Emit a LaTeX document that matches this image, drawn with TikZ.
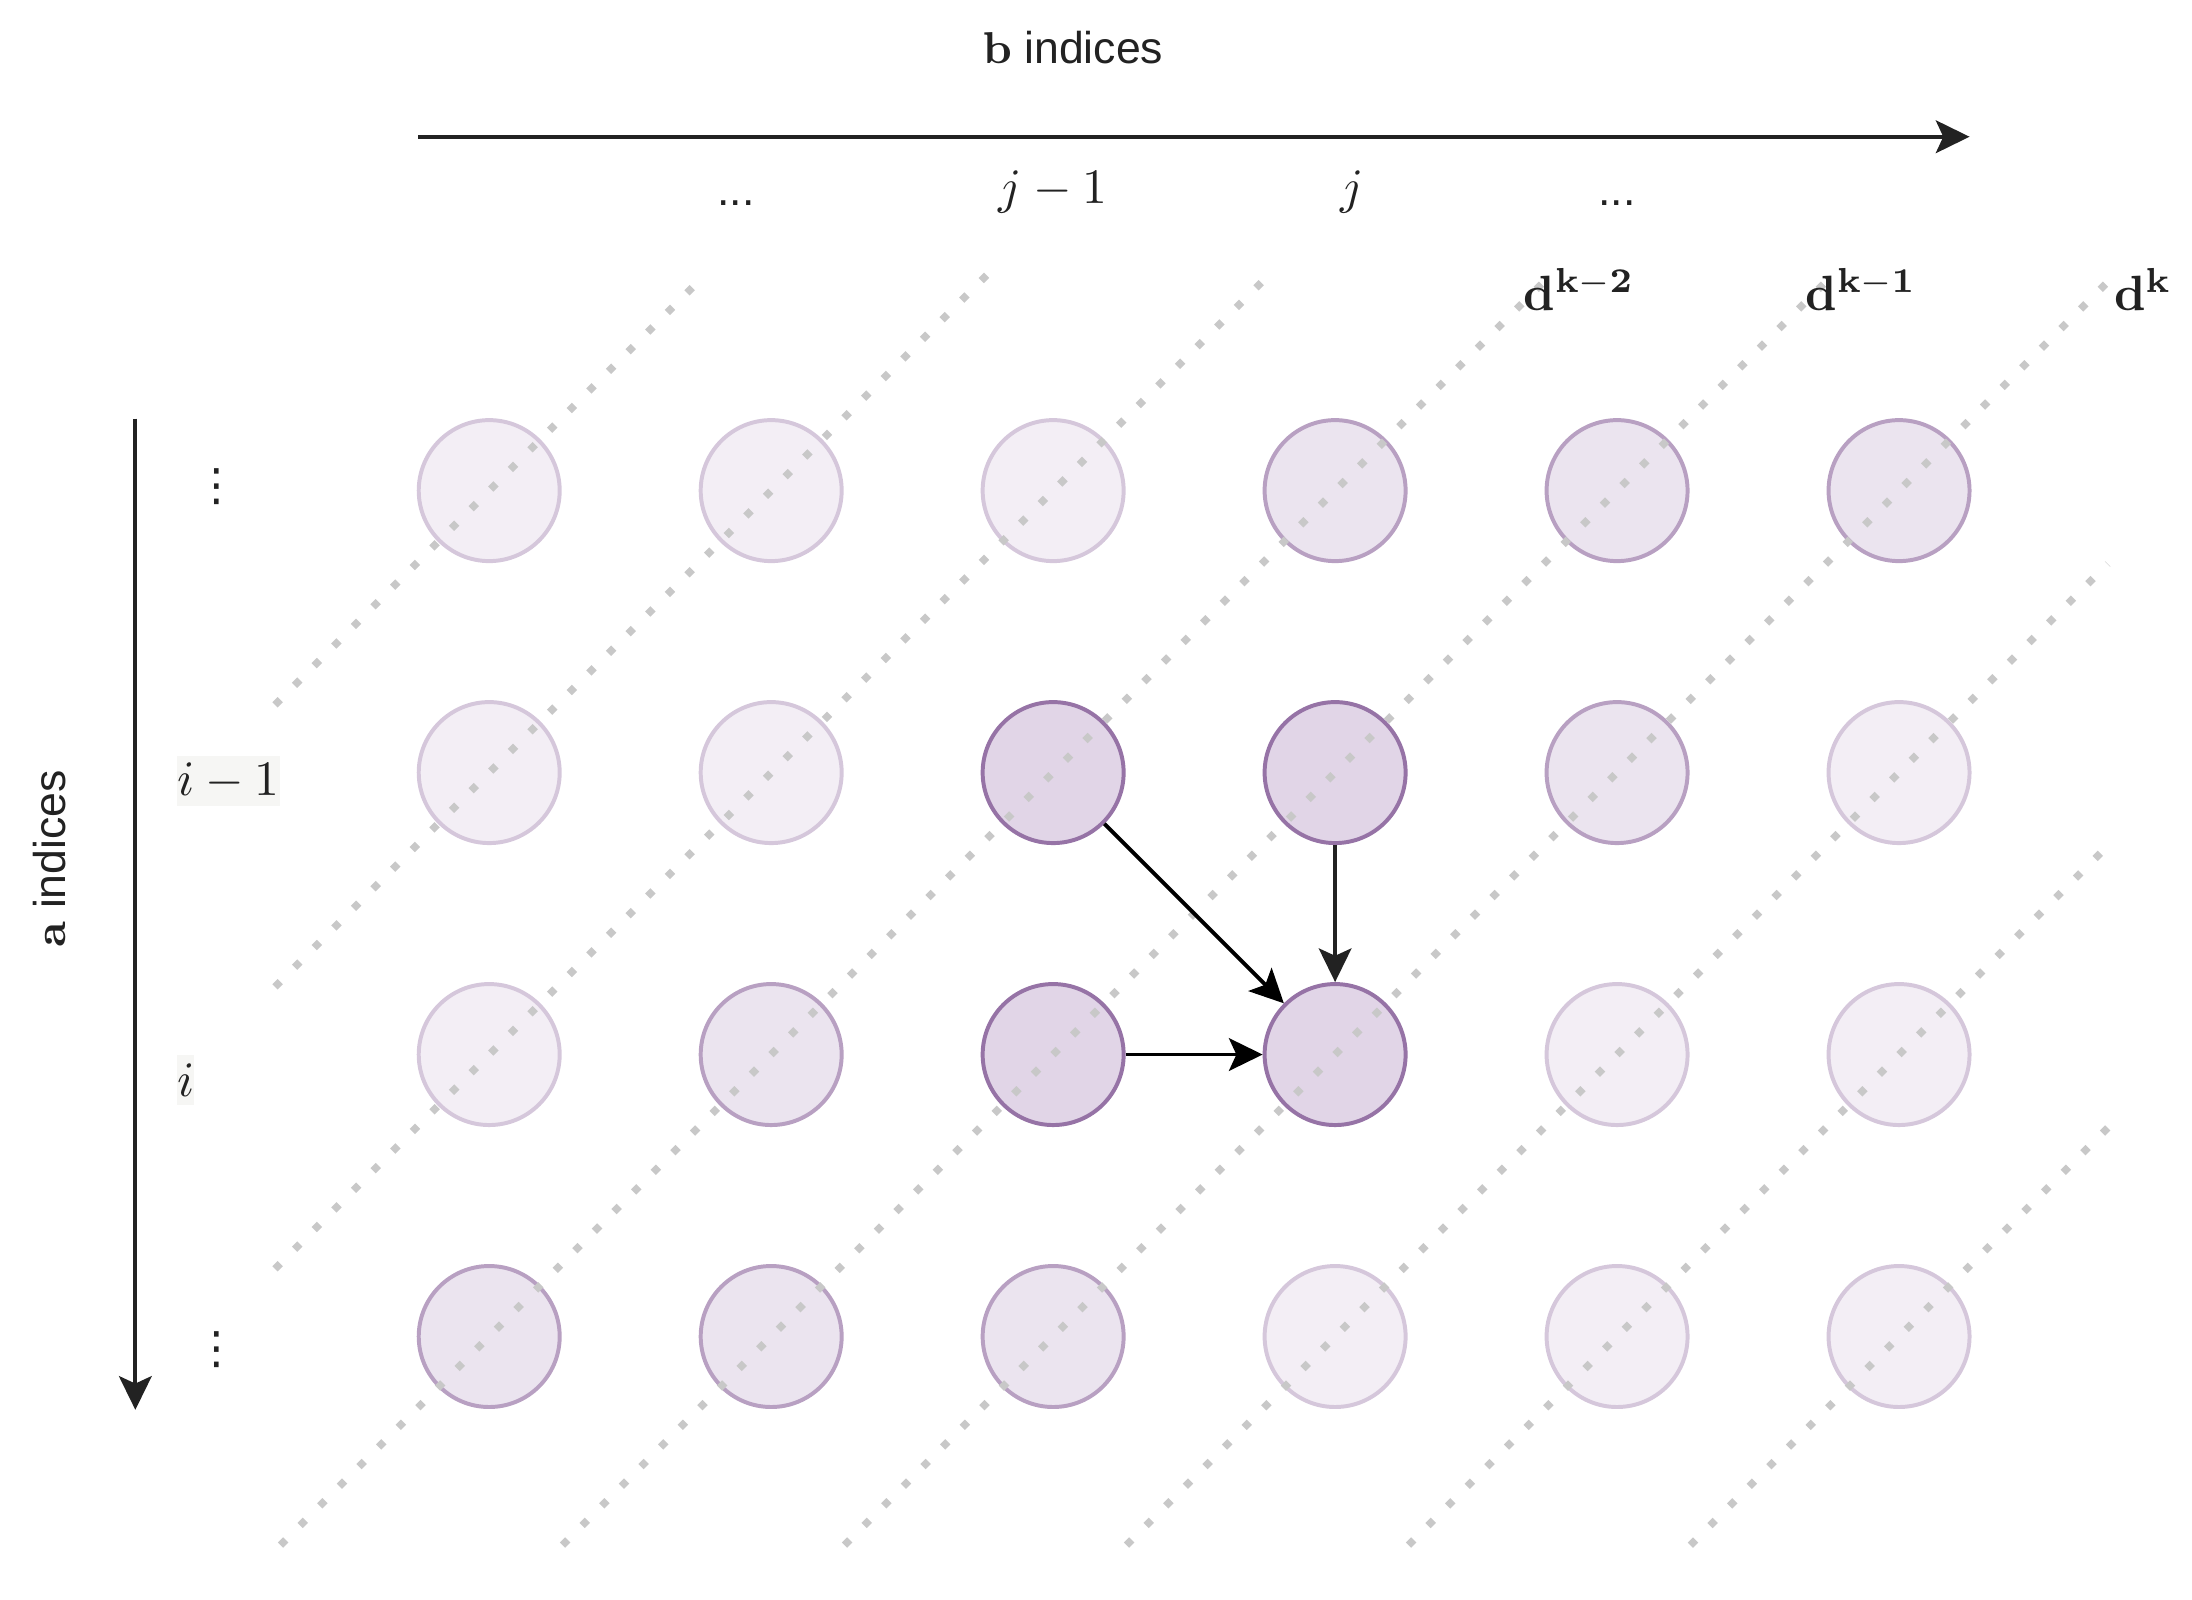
\documentclass[tikz,border=0pt]{standalone}
\usepackage[no-math]{fontspec}
\setmainfont{Liberation Sans}
\newfontfamily\symfont{DejaVu Sans}
\usetikzlibrary{arrows.meta,positioning}

\definecolor{cellfill}{HTML}{E1D5E7}
\definecolor{celldraw}{HTML}{9673A6}
\definecolor{dotgray}{HTML}{C8C8C8}
\definecolor{labelbg}{HTML}{F6F6F4}
\definecolor{ink}{HTML}{222222}

\tikzset{
    cell/.style={circle, minimum size=1cm, inner sep=0pt, line width=0.8pt},
    cellfaint/.style={cell, draw=celldraw!40, fill=cellfill!40},
    cellmid/.style={cell, draw=celldraw!68, fill=cellfill!65},
    celldark/.style={cell, draw=celldraw, fill=cellfill},
    diag/.style={dotgray, line width=1.5pt, dash pattern=on 1.5pt off 4.1pt},
    axis/.style={->, line width=0.8pt, draw=ink},
    mathlbl/.style={text=ink, font=\fontsize{10}{12}\selectfont},
    rowlbl/.style={mathlbl, fill=labelbg, inner sep=0pt, minimum height=0.36cm, anchor=west},
    vdotlbl/.style={inner sep=0pt, font=\symfont\fontsize{9}{11}\selectfont},
}

\begin{document}
\begin{tikzpicture}[x=1cm, y=-1cm, >={Stealth[length=6.8pt, width=6.6pt, inset=1.5pt]},
    font=\fontsize{9}{11}\selectfont, text=ink]
    \useasboundingbox (0,0) rectangle (15.548,11.344);

    % grid of cells, shaded by anti-diagonal
    \foreach \r in {1,...,4}
        \foreach \c in {1,...,6} {
            \pgfmathtruncatemacro{\s}{\r+\c}
            \def\cellstyle{cellfaint}
            \ifnum\s>4 \ifnum\s<8 \def\cellstyle{cellmid}\fi\fi
            \ifnum\r>1 \ifnum\r<4 \ifnum\c>2 \ifnum\c<5 \def\cellstyle{celldark}\fi\fi\fi\fi
            \node[\cellstyle] (c\r\c) at ({1.47+2*\c},{1.48+2*\r}) {};
        }

    % anti-diagonals
    \foreach \k in {0,...,8} {
        \pgfmathsetmacro{\s}{6.95+2*\k}
        \pgfmathsetmacro{\xa}{max(1.95,\s-10.96)}
        \pgfmathsetmacro{\xb}{min(14.95,\s-1.95)}
        \draw[diag] ({\xa},{\s-\xa}) -- ({\xb},{\s-\xb});
    }

    % dependencies
    \draw[->, line width=0.8pt, draw=black] (c23) -- (c34);
    \draw[->, line width=0.7pt, draw=ink] (c24) -- (c34);
    \draw[->, line width=0.7pt, draw=black] (c33) -- (c34);

    % b axis
    \node (bidx) at (7.61,0.34) {$\mathbf{b}$ indices};
    \coordinate (bfrom) at (2.965,0.97);
    \coordinate (bto) at (13.97,0.97);
    \draw[axis] (bfrom) -- (bto);
    \node[anchor=base] (bdots1) at (5.22,1.46) {...};
    \node[mathlbl] (jm1) at (7.47,1.36) {$j-1$};
    \node[mathlbl] (jj) at (9.59,1.36) {$j$};
    \node[anchor=base] (bdots2) at (11.47,1.46) {...};

    % diagonal labels
    \node[mathlbl] (dk2) at (11.2,2.05) {$\mathbf{d}^{\mathbf{k}-\mathbf{2}}$};
    \node[mathlbl] (dk1) at (13.2,2.05) {$\mathbf{d}^{\mathbf{k}-\mathbf{1}}$};
    \node[mathlbl] (dk) at (15.2,2.05) {$\mathbf{d}^{\mathbf{k}}$};

    % a axis
    \node[rotate=90] (aidx) at (0.35,6.09) {$\mathbf{a}$ indices};
    \coordinate (afrom) at (0.96,2.97);
    \coordinate (ato) at (0.96,10.0);
    \draw[axis] (afrom) -- (ato);
    \node[vdotlbl] (adots1) at (1.54,3.45) {⋮};
    \node[rowlbl] (im1) at (1.25,5.54) {$i-1$};
    \node[rowlbl] (ii) at (1.25,7.66) {$i$};
    \node[vdotlbl] (adots2) at (1.54,9.57) {⋮};
\end{tikzpicture}
\end{document}
